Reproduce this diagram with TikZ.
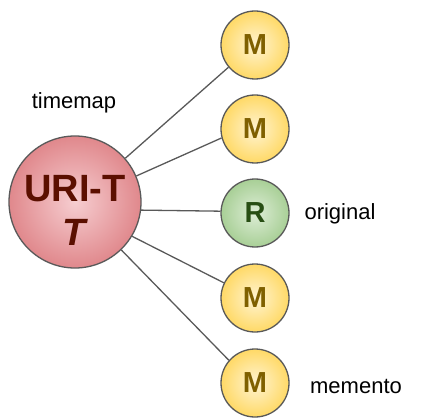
\documentclass[tikz,border=0pt]{standalone}
\usepackage{fontspec}
\setmainfont{Liberation Sans}
\definecolor{edgegray}{HTML}{595959}
\definecolor{redtext}{HTML}{5B0F00}
\definecolor{browntext}{HTML}{7F6000}
\definecolor{greentext}{HTML}{274E13}
\definecolor{pinkin}{HTML}{F6CDD0}
\definecolor{pinkout}{HTML}{E0888C}
\definecolor{yelin}{HTML}{FFF4D2}
\definecolor{yelout}{HTML}{FFD966}
\definecolor{grnin}{HTML}{DDEDD6}
\definecolor{grnout}{HTML}{A8CF96}
\tikzset{
  ball/.style={circle, draw=edgegray, line width=1.3pt, inner sep=0pt},
  bigball/.style={ball, minimum size=132pt, inner color=pinkin, outer color=pinkout},
  mball/.style={ball, minimum size=68pt, inner color=yelin, outer color=yelout,
     font=\bfseries\fontsize{29}{33}\selectfont, text=browntext},
  rball/.style={ball, minimum size=68pt, inner color=grnin, outer color=grnout,
     font=\bfseries\fontsize{29}{33}\selectfont, text=greentext},
  link/.style={draw=edgegray, line width=1.3pt},
  caption/.style={font=\fontsize{22}{26}\selectfont, text=black}
}
\begin{document}
\begin{tikzpicture}[x=1pt,y=1pt]
\useasboundingbox (0,0) rectangle (425,418);
\node[bigball, label={[yshift=-8pt, align=center, text=redtext,
   font=\bfseries\fontsize{38}{44}\selectfont]center:URI-T\\\textit{T}}] (urit) at (75,216) {};
\node[mball] (m1) at (255,373) {M};
\node[mball] (m2) at (255,289) {M};
\node[rball] (r) at (255,205) {R};
\node[mball] (m3) at (255,120) {M};
\node[mball] (m4) at (255,35) {M};
\draw[link] (urit.41) -- (m1.220);
\draw[link] (urit.23) -- (m2.195);
\draw[link] (urit.-7) -- (r.177);
\draw[link] (urit.-31) -- (m3.154);
\draw[link] (urit.-46) -- (m4.139);
\node[caption] (tm) at (74,315) {timemap};
\node[caption] (orig) at (340,204) {original};
\node[caption] (mem) at (356,32) {memento};
\end{tikzpicture}
\end{document}
